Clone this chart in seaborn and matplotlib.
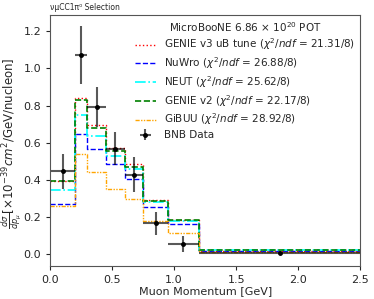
import numpy as np
import pandas as pd
import matplotlib
matplotlib.use('Agg')
import matplotlib.pyplot as plt
import seaborn as sns

# muon momentum bins [GeV]
bin_edges = [0.0, 0.2, 0.3, 0.45, 0.6, 0.75, 0.95, 1.2, 2.5]

# measured cross section [1e-39 cm^2/GeV/nucleon]
data_xsec = [0.446, 1.074, 0.792, 0.568, 0.428, 0.165, 0.055, 0.004]
data_err = [0.095, 0.155, 0.108, 0.090, 0.093, 0.060, 0.043, 0.004]

# generator predictions
genie_v3 = [0.395, 0.842, 0.695, 0.572, 0.486, 0.292, 0.182, 0.019]
nuwro = [0.268, 0.648, 0.568, 0.484, 0.407, 0.251, 0.161, 0.018]
neut = [0.344, 0.751, 0.636, 0.528, 0.458, 0.282, 0.180, 0.021]
genie_v2 = [0.393, 0.828, 0.681, 0.555, 0.471, 0.287, 0.181, 0.021]
gibuu = [0.258, 0.538, 0.443, 0.353, 0.296, 0.176, 0.115, 0.012]

model_names = ['GENIE v3 uB tune', 'NuWro', 'NEUT', 'GENIE v2', 'GiBUU']
model_chi2 = ['21.31/8', '26.88/8', '25.62/8', '22.17/8', '28.92/8']


def plot_xsec():
    """
    Draws the muon momentum differential cross section against the generators.
    """
    edges = np.array(bin_edges)
    centers = 0.5 * (edges[1:] + edges[:-1])
    half_widths = 0.5 * (edges[1:] - edges[:-1])

    fig = plt.figure(figsize=(3.74, 2.99), dpi=100)
    ax = fig.add_axes([0.134, 0.110, 0.829, 0.841])

    models = [genie_v3, nuwro, neut, genie_v2, gibuu]
    colors = ['red', 'blue', 'cyan', 'green', 'orange']
    styles = [':', '--', '-.', '--', (0, (3, 1, 1, 1, 1, 1))]
    widths = [1.0, 1.0, 1.2, 1.2, 1.0]

    for name, chi2, vals, c, ls, lw in zip(model_names, model_chi2, models, colors, styles, widths):
        df = pd.DataFrame({'pmu': centers, 'xsec': vals})
        sns.histplot(data=df, x='pmu', weights='xsec', bins=bin_edges, element='step',
                     fill=False, color=c, linestyle=ls, linewidth=lw, ax=ax,
                     label=name + r' ($\chi^2/ndf$ = ' + chi2 + ')')

    ax.errorbar(centers, data_xsec, xerr=half_widths, yerr=data_err, fmt='o',
                color='black', ecolor=(0, 0, 0, 0.65), markersize=2.5, elinewidth=1.5,
                label='BNB Data')

    ax.set_xlim(0, 2.5)
    ax.set_ylim(-0.065, 1.29)
    ax.set_xticks([0.0, 0.5, 1.0, 1.5, 2.0, 2.5])
    ax.set_yticks([0.0, 0.2, 0.4, 0.6, 0.8, 1.0, 1.2])
    ax.tick_params(labelsize=8, length=3)
    ax.set_xlabel('Muon Momentum [GeV]', fontsize=8, labelpad=1)
    ax.set_ylabel(r'$\frac{d\sigma}{dp_{\mu}}[\times 10^{-39} cm^2$/GeV/nucleon]', fontsize=8.5)
    ax.yaxis.set_label_coords(-0.088, 0.49)
    ax.set_title('νμCC1π⁰ Selection', loc='left', fontsize=5.5, pad=3)

    ax.legend(title=r'MicroBooNE 6.86 $\times$ 10$^{20}$ POT', loc='upper right',
              frameon=False, fontsize=7.5, title_fontsize=7.5, labelspacing=0.28,
              borderaxespad=0.5, borderpad=0.0)
    for s in ax.spines.values():
        s.set_color('#555555')
    plt.savefig('out.png', dpi=100)


if __name__ == '__main__':
    sns.set_style('ticks')
    plot_xsec()
